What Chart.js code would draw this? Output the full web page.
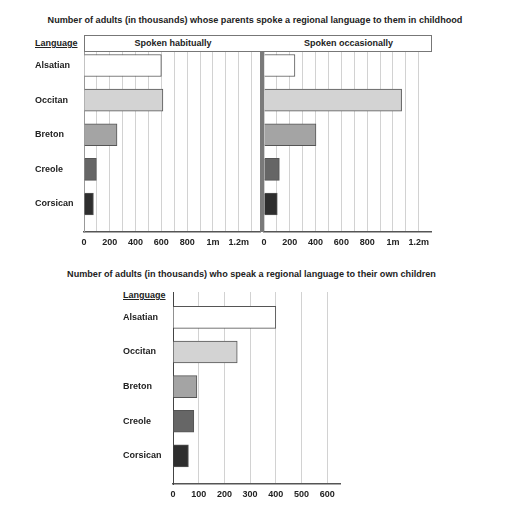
<!DOCTYPE html>
<html>
<head>
<meta charset="utf-8">
<script src="https://cdn.jsdelivr.net/npm/chart.js@4/dist/chart.umd.min.js"></script>
<style>
  html, body { margin: 0; padding: 0; background: #fff; }
  #wrap { position: relative; width: 512px; height: 505px; overflow: hidden; font-family: 'Liberation Sans', Arial, sans-serif; color: #222; }
  .abs { position: absolute; }
  canvas { position: absolute; }
  .title { font-weight: bold; font-size: 9.1px; white-space: nowrap; text-align: center; }
  .lang { font-weight: bold; font-size: 9px; text-decoration: underline; white-space: nowrap; }
  #hdr { left: 84px; top: 35px; width: 348px; height: 17px; border: 1px solid #777; box-sizing: border-box; background: #fff; }
  .hdrtxt { position: absolute; top: 0; height: 15px; line-height: 15px; font-weight: bold; font-size: 9px; text-align: center; white-space: nowrap; }
  #divider { left: 260px; top: 52px; width: 4px; height: 180px; background: #7a7a7a; }
</style>
</head>
<body>
<div id="wrap">
  <div class="abs title" style="left:0; width:510px; top:15px;">Number of adults (in thousands) whose parents spoke a regional language to them in childhood</div>
  <div class="abs lang" style="left:35px; top:38px;">Language</div>
  <canvas id="c1" width="262" height="212" style="left:0; top:40px; width:262px; height:212px;"></canvas>
  <canvas id="c2" width="190" height="212" style="left:254px; top:40px; width:190px; height:212px;"></canvas>
  <div id="hdr" class="abs">
    <span class="hdrtxt" style="left:0; width:176px;">Spoken habitually</span>
    <span class="hdrtxt" style="left:180px; width:167px;">Spoken occasionally</span>
  </div>
  <div id="divider" class="abs"></div>

  <div class="abs title" style="left:0; width:503px; top:269px;">Number of adults (in thousands) who speak a regional language to their own children</div>
  <div class="abs lang" style="left:123px; top:290px;">Language</div>
  <canvas id="c3" width="362" height="224" style="left:0; top:280px; width:362px; height:224px;"></canvas>
</div>
<script>
// ---- data ----
const languages = ['Alsatian', 'Occitan', 'Breton', 'Creole', 'Corsican'];
const spokenHabitually = [600, 612, 256, 96, 73];
const spokenOccasionally = [240, 1067, 403, 119, 103];
const speakToChildren = [400, 250, 93, 81, 60];

const topTickValues = [0, 200, 400, 600, 800, 1000, 1200];
const topTickLabels = ['0', '200', '400', '600', '800', '1m', '1.2m'];
const bottomTickValues = [0, 100, 200, 300, 400, 500, 600];
const bottomTickLabels = ['0', '100', '200', '300', '400', '500', '600'];

// ---- styles ----
const barColors = ['#ffffff', '#d3d3d3', '#a4a4a4', '#666666', '#2e2e2e'];
const barBorder = '#555555';
const gridColor = '#d2d2d2';
const FONT = "'Liberation Sans', Arial, sans-serif";

Chart.defaults.font.family = FONT;
Chart.defaults.color = '#222';

function points(values) {
  return values.map((v, i) => ({ x: v, y: i }));
}

function makeChart(id, values, opts) {
  const gridVals = [];
  for (let v = 0; v <= opts.gridMax; v += opts.gridStep) gridVals.push(v);
  return new Chart(document.getElementById(id), {
    type: 'bar',
    data: {
      datasets: [{
        data: points(values),
        backgroundColor: barColors,
        borderColor: barBorder,
        borderWidth: 1,
        borderSkipped: 'left',
        barThickness: 22
      }]
    },
    options: {
      indexAxis: 'y',
      responsive: false,
      maintainAspectRatio: false,
      animation: false,
      events: [],
      layout: { padding: opts.padding },
      plugins: { legend: { display: false }, tooltip: { enabled: false }, title: { display: false } },
      scales: {
        x: {
          type: 'linear',
          min: 0,
          max: opts.max,
          offset: false,
          afterBuildTicks: s => { s.ticks = gridVals.map(v => ({ value: v })); },
          afterFit: s => { s.height = opts.xHeight; },
          grid: { color: gridColor, lineWidth: 1, drawTicks: false, offset: false },
          border: { color: '#555', width: 1.5 },
          ticks: {
            autoSkip: false, maxRotation: 0, padding: 5,
            font: { size: 9, weight: 'bold' },
            callback: v => { const k = opts.tickValues.indexOf(v); return k >= 0 ? opts.tickLabels[k] : ''; }
          }
        },
        y: {
          type: 'linear',
          reverse: true,
          min: opts.yMin,
          max: 4.81,
          offset: false,
          grace: 0,
          display: opts.showY,
          afterBuildTicks: s => { s.ticks = languages.map((l, i) => ({ value: i })); },
          afterFit: s => { s.width = opts.yWidth; },
          grid: { display: false, drawTicks: false, offset: false },
          border: { display: true, color: opts.yBorder, width: 1 },
          ticks: {
            autoSkip: false, crossAlign: 'far', padding: 0,
            font: { size: 9, weight: 'bold' },
            callback: v => languages[v]
          }
        }
      }
    }
  });
}

makeChart('c1', spokenHabitually, {
  max: 1365, gridMax: 1300, gridStep: 100, tickValues: topTickValues, tickLabels: topTickLabels,
  padding: { left: 35, right: 2, top: 12, bottom: 0 }, xHeight: 20, yWidth: 49, yMin: -0.39, showY: true, yBorder: '#999'
});
makeChart('c2', spokenOccasionally, {
  max: 1295, gridMax: 1200, gridStep: 100, tickValues: topTickValues, tickLabels: topTickLabels,
  padding: { left: 10, right: 13, top: 12, bottom: 0 }, xHeight: 20, yWidth: 0, yMin: -0.39, showY: false, yBorder: '#777'
});
makeChart('c3', speakToChildren, {
  max: 650, gridMax: 600, gridStep: 100, tickValues: bottomTickValues, tickLabels: bottomTickLabels,
  padding: { left: 123, right: 22, top: 12, bottom: 0 }, xHeight: 20, yWidth: 50, yMin: -0.73, showY: true, yBorder: '#444'
});
</script>
</body>
</html>
